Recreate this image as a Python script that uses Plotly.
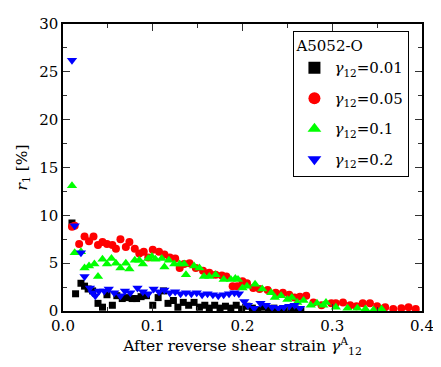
import plotly.graph_objects as go

# gamma*12 = 0.01 (black squares)
x_k = [0.010, 0.014, 0.020, 0.024, 0.028, 0.033, 0.039, 0.044, 0.049, 0.055, 0.060, 0.066, 0.071, 0.077,
       0.082, 0.087, 0.093, 0.100, 0.106, 0.112, 0.117, 0.123, 0.128, 0.134, 0.140, 0.146, 0.152, 0.158,
       0.163, 0.169, 0.175, 0.181, 0.187, 0.193, 0.199, 0.205, 0.211, 0.217, 0.223, 0.229, 0.235, 0.241,
       0.247, 0.253, 0.259, 0.265]
y_k = [9.2, 1.8, 2.9, 2.6, 2.3, 2.1, 0.8, 0.4, 1.7, 0.6, 1.6, 1.3, 1.4, 1.3,
       1.3, 1.5, 1.6, 0.6, 1.4, 2.1, 0.8, 1.1, 0.4, 0.9, 0.6, 0.9, 0.4, 0.6,
       0.3, 0.6, 0.3, 0.5, 0.3, 0.6, 0.2, 0.5, 0.3, 0.1, 0.4, 0.2, 0.3, 0.1,
       0.2, 0.1, 0.2, 0.1]

# gamma*12 = 0.05 (red circles)
x_r = [0.010, 0.013, 0.018, 0.024, 0.029, 0.034, 0.039, 0.044, 0.049, 0.055, 0.059, 0.064, 0.070, 0.074,
       0.080, 0.085, 0.090, 0.095, 0.100, 0.107, 0.113, 0.119, 0.125, 0.130, 0.135, 0.141, 0.148, 0.156,
       0.163, 0.170, 0.177, 0.182, 0.189, 0.194, 0.200, 0.205, 0.212, 0.219, 0.228, 0.237, 0.245, 0.252,
       0.258, 0.264, 0.271, 0.279, 0.288, 0.299, 0.304, 0.312, 0.320, 0.327, 0.334, 0.342, 0.350, 0.359,
       0.368, 0.377, 0.385, 0.393]
y_r = [8.8, 8.9, 7.0, 7.8, 7.3, 7.8, 6.9, 7.2, 7.0, 6.9, 6.5, 7.5, 6.7, 7.2,
       6.5, 6.0, 6.2, 5.6, 6.4, 6.2, 5.9, 5.6, 5.5, 4.5, 4.9, 5.0, 4.5, 4.2,
       4.0, 3.8, 3.7, 3.6, 2.6, 2.6, 3.1, 2.9, 2.4, 2.3, 2.2, 1.9, 1.9, 1.7,
       1.4, 1.5, 1.6, 0.9, 0.6, 0.8, 0.8, 0.9, 0.6, 0.5, 0.8, 0.8, 0.5, 0.4,
       0.2, 0.3, 0.4, 0.2]

# gamma*12 = 0.1 (green triangles up)
x_g = [0.010, 0.013, 0.020, 0.024, 0.029, 0.035, 0.039, 0.044, 0.049, 0.054, 0.059, 0.064, 0.070, 0.074,
       0.080, 0.085, 0.089, 0.095, 0.099, 0.103, 0.110, 0.113, 0.118, 0.124, 0.130, 0.135, 0.137, 0.146,
       0.152, 0.157, 0.163, 0.170, 0.179, 0.187, 0.192, 0.195, 0.200, 0.205, 0.214, 0.222, 0.232, 0.236,
       0.243, 0.250, 0.255, 0.261, 0.268, 0.276, 0.283, 0.290, 0.293, 0.304, 0.317, 0.328, 0.337, 0.346,
       0.355]
y_g = [13.1, 6.1, 6.2, 4.5, 4.7, 4.9, 3.6, 5.4, 4.9, 5.5, 5.0, 4.5, 5.0, 4.4,
       5.3, 5.3, 4.9, 5.5, 5.7, 5.4, 5.5, 4.6, 5.3, 4.9, 4.9, 4.9, 3.8, 4.7,
       4.5, 3.6, 3.6, 3.8, 3.3, 3.3, 3.4, 3.3, 2.4, 2.6, 2.8, 2.3, 1.9, 1.4,
       1.6, 1.2, 1.4, 0.9, 1.1, 0.6, 0.8, 0.6, 0.9, 0.4, 0.3, 0.3, 0.2, 0.1,
       0.2]

# gamma*12 = 0.2 (blue triangles down)
x_b = [0.010, 0.013, 0.020, 0.024, 0.030, 0.033, 0.036, 0.040, 0.046, 0.051, 0.057, 0.064, 0.069, 0.075,
       0.083, 0.089, 0.095, 0.101, 0.107, 0.113, 0.119, 0.125, 0.131, 0.137, 0.143, 0.149, 0.155, 0.161,
       0.167, 0.173, 0.179, 0.185, 0.191, 0.196, 0.202, 0.206, 0.213, 0.220, 0.226, 0.233, 0.240, 0.246,
       0.252, 0.258, 0.264]
y_b = [26.2, 8.9, 6.1, 3.6, 2.4, 1.9, 1.6, 2.1, 2.1, 2.3, 1.9, 1.6, 2.1, 1.9,
       2.4, 2.0, 1.8, 2.3, 2.0, 2.2, 1.9, 2.0, 1.8, 1.9, 1.8, 1.9, 1.7, 1.8,
       1.7, 1.6, 1.7, 1.8, 1.9, 1.8, 1.0, 0.6, 0.3, 0.8, 0.6, 0.4, 0.3, 0.4,
       0.5, 0.6, 0.3]

x_ticks = [0.0, 0.1, 0.2, 0.3, 0.4]
x_ticklabels = ["0.0", "0.1", "0.2", "0.3", "0.4"]
y_ticks = [0, 5, 10, 15, 20, 25, 30]

series = [
    ("<i>γ</i><sub>12</sub>=0.01", x_k, y_k, "#000000", "square", 7),
    ("<i>γ</i><sub>12</sub>=0.05", x_r, y_r, "#ff0000", "circle", 8),
    ("<i>γ</i><sub>12</sub>=0.1", x_g, y_g, "#00ff00", "triangle-up", 9),
    ("<i>γ</i><sub>12</sub>=0.2", x_b, y_b, "#0000ff", "triangle-down", 9),
]

FAM = "DejaVu Serif"

fig = go.Figure()
for i, (name, xs, ys, col, sym, sz) in enumerate(series):
    fig.add_trace(go.Scatter(x=xs, y=ys, mode="markers", name=name, legendgroup=f"g{i}",
                             marker=dict(color=col, symbol=sym, size=sz, line=dict(width=0))))

font = dict(family=FAM, size=15, color="#000")
axis_common = dict(showgrid=False, zeroline=False, showline=True, linecolor="#000", linewidth=1.5,
                   mirror="ticks", ticks="inside", ticklen=7, tickwidth=1.2, tickcolor="#333",
                   tickfont=font, ticklabeloverflow="allow")

# page body has an 8px margin, so the figure is drawn 8px smaller and offset
fig.update_layout(
    width=433, height=359,
    margin=dict(l=55, r=10, t=7, b=56),
    paper_bgcolor="white", plot_bgcolor="white",
    font=font,
    showlegend=True,
    legend=dict(title=dict(text="A5052-O", font=dict(family=FAM, size=15, color="#000")),
                x=0.965, y=0.976, xanchor="right", yanchor="top",
                bordercolor="#000", borderwidth=1, bgcolor="white",
                font=dict(family=FAM, size=15, color="#000"), itemsizing="constant",
                itemwidth=30, tracegroupgap=8),
    xaxis=dict(range=[0, 0.4], tickvals=x_ticks, ticktext=x_ticklabels,
               minor=dict(ticks="inside", ticklen=4, dtick=0.05, tickcolor="#333"),
               title=dict(text="After reverse shear strain <i>γ</i><sup>A</sup><sub>12</sub>",
                          font=dict(family=FAM, size=15.5, color="#000"), standoff=4),
               **axis_common),
    yaxis=dict(range=[0, 30], tickvals=y_ticks,
               minor=dict(ticks="inside", ticklen=4, dtick=2.5, tickcolor="#333"),
               title=dict(text="<i>r</i><sub>1</sub> [%]",
                          font=dict(family=FAM, size=15.5, color="#000"), standoff=8),
               **axis_common),
)

fig.write_html("out.html")
